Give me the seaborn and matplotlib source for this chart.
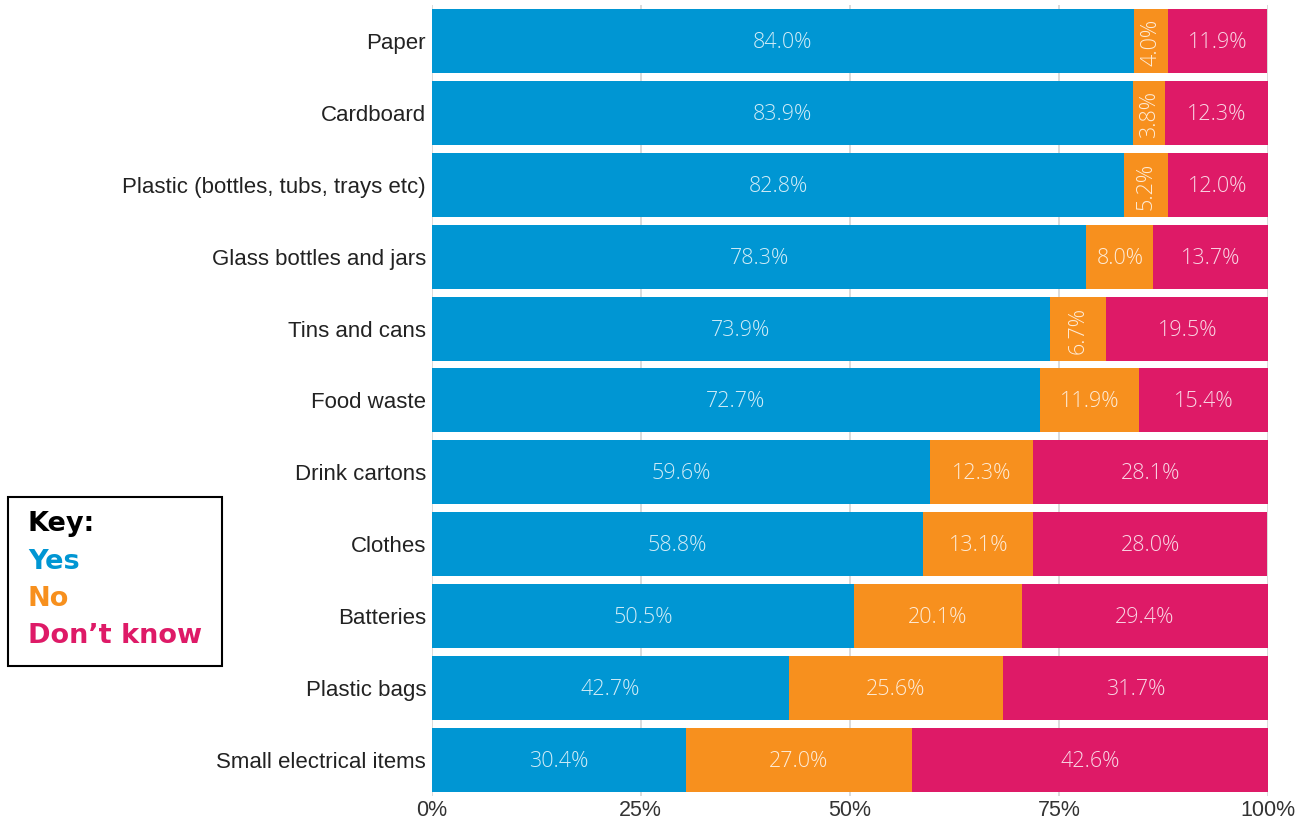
import numpy as np
import pandas as pd
import matplotlib
matplotlib.use("Agg")
import matplotlib.pyplot as plt
import seaborn as sns

# data
items = ["Paper", "Cardboard", "Plastic (bottles, tubs, trays etc)",
         "Glass bottles and jars", "Tins and cans", "Food waste",
         "Drink cartons", "Clothes", "Batteries", "Plastic bags",
         "Small electrical items"]
yes = [84.0, 83.9, 82.8, 78.3, 73.9, 72.7, 59.6, 58.8, 50.5, 42.7, 30.4]
no = [4.0, 3.8, 5.2, 8.0, 6.7, 11.9, 12.3, 13.1, 20.1, 25.6, 27.0]
dont_know = [11.9, 12.3, 12.0, 13.7, 19.5, 15.4, 28.1, 28.0, 29.4, 31.7, 42.6]

c_yes = "#0096d3"
c_no = "#f7901e"
c_dk = "#de1a67"

df = pd.DataFrame({"item": items, "yes": yes, "no": no, "dk": dont_know})
df["yes_no"] = df["yes"] + df["no"]
df["total"] = df["yes_no"] + df["dk"]

sns.set_theme(style="white")
plt.rcParams["font.family"] = ["Liberation Sans", "DejaVu Sans"]

fig = plt.figure(figsize=(13.08, 8.19), dpi=100)
ax = fig.add_axes([0.330, 0.028, 0.6394, 0.966])

for x in [0, 25, 50, 75, 100]:
    ax.axvline(x, color="#d4d4d4", lw=1.2, zorder=0)

bh = 0.89
for col, c, z in [("total", c_dk, 2), ("yes_no", c_no, 3), ("yes", c_yes, 4)]:
    sns.barplot(data=df, y="item", x=col, color=c, orient="h", width=bh,
                saturation=1, linewidth=0, ax=ax, zorder=z)

lab_kw = dict(color="white", alpha=0.82, fontsize=15.5, va="center", ha="center",
              family=["Open Sans", "DejaVu Sans"], fontweight="light", zorder=6)
for i, row in df.iterrows():
    ax.text(row["yes"] / 2, i + 0.02, f"{row['yes']:.1f}%", **lab_kw)
    rot = 90 if row["no"] < 7.5 else 0
    ax.text(row["yes"] + row["no"] / 2, i + 0.02, f"{row['no']:.1f}%", rotation=rot, **lab_kw)
    ax.text(row["yes_no"] + row["dk"] / 2, i + 0.02, f"{row['dk']:.1f}%", **lab_kw)

ax.set_xlim(0, 100)
ax.set_ylim(10.5, -0.5)
ax.set_xticks([0, 25, 50, 75, 100])
ax.set_xticklabels(["0%", "25%", "50%", "75%", "100%"], fontsize=15.5, color="#333333")
ax.tick_params(axis="y", labelsize=16, labelcolor="#222222", length=0, pad=4)
ax.tick_params(axis="x", length=0, pad=3)
ax.set_xlabel("")
ax.set_ylabel("")
for s in ax.spines.values():
    s.set_visible(False)

# key box
box = plt.Rectangle((8 / 1308, 1 - 666 / 819), 214 / 1308, 169 / 819,
                    transform=fig.transFigure, fill=False, edgecolor="black", lw=1.5)
fig.patches.append(box)
key_kw = dict(fontsize=19.5, fontweight="bold", family=["DejaVu Sans"], va="center")
fig.text(28 / 1308, 1 - 524 / 819, "Key:", color="black", **key_kw)
fig.text(28 / 1308, 1 - 562 / 819, "Yes", color=c_yes, **key_kw)
fig.text(28 / 1308, 1 - 599 / 819, "No", color=c_no, **key_kw)
fig.text(28 / 1308, 1 - 636 / 819, "Don\u2019t know", color=c_dk, **key_kw)

fig.savefig("out.png", dpi=100)
